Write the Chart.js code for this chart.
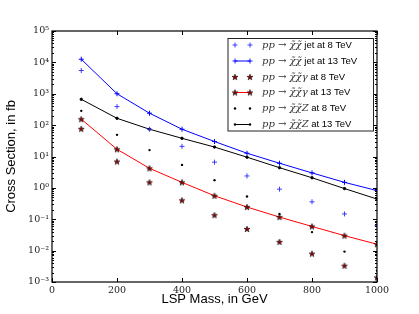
<!DOCTYPE html>
<html><head><meta charset="utf-8">
<script src="https://cdn.jsdelivr.net/npm/chart.js@4.4.0/dist/chart.umd.min.js"></script>
<style>html,body{margin:0;padding:0;background:#fff;} canvas{display:block}</style>
</head><body>
<canvas id="c" width="419" height="314"></canvas>
<script>
// ---- data ----
const masses = [90, 200, 300, 400, 500, 600, 700, 800, 900, 1000];
const jet8  = [5500, 390, 74, 21, 6.6, 2.4, 0.91, 0.36, 0.148, 0.063];
const jet13 = [12600, 1000, 240, 74, 30, 12.7, 6.1, 3.0, 1.5, 0.82];
const gam8  = [76, 6.9, 1.5, 0.40, 0.135, 0.049, 0.019, 0.008, 0.0033, 0.0014];
const gam13 = [155, 17, 4.2, 1.5, 0.56, 0.245, 0.117, 0.059, 0.030, 0.016];
const z8    = [285, 49, 16, 5.4, 1.76, 0.53, 0.148, 0.039, 0.0093, 0.0023];
const z13   = [665, 165, 74, 38, 20, 9.5, 4.4, 2.1, 0.95, 0.44];
const xTickValues = [0, 200, 400, 600, 800, 1000];
const yExponents = [-3, -2, -1, 0, 1, 2, 3, 4, 5];
const legendMath = ['pp \u2192 \u03C7\u0303\u03C7\u0303', 'pp \u2192 \u03C7\u0303\u03C7\u0303', 'pp \u2192 \u03C7\u0303\u03C7\u0303\u03B3', 'pp \u2192 \u03C7\u0303\u03C7\u0303\u03B3', 'pp \u2192 \u03C7\u0303\u03C7\u0303Z', 'pp \u2192 \u03C7\u0303\u03C7\u0303Z'];
const legendText = [' jet at 8 TeV', ' jet at 13 TeV', ' at 8 TeV', ' at 13 TeV', ' at 8 TeV', ' at 13 TeV'];

const sup = {'0':'\u2070','1':'\u00B9','2':'\u00B2','3':'\u00B3','4':'\u2074','5':'\u2075','6':'\u2076','7':'\u2077','8':'\u2078','9':'\u2079','-':'\u207B'};
function supStr(n){ return String(n).split('').map(c => sup[c]).join(''); }

// star marker
function makeStar(){
  const c = document.createElement('canvas');
  c.width = 8; c.height = 8;
  const g = c.getContext('2d');
  g.beginPath();
  for (let i = 0; i < 10; i++) {
    const r = i % 2 === 0 ? 3.2 : 1.3;
    const a = -Math.PI/2 + i * Math.PI/5;
    const px = 4 + r * Math.cos(a), py = 4.3 + r * Math.sin(a);
    i === 0 ? g.moveTo(px, py) : g.lineTo(px, py);
  }
  g.closePath();
  g.fillStyle = '#8b0000'; g.fill();
  g.lineWidth = 0.5; g.strokeStyle = '#000'; g.stroke();
  return c;
}
const star = makeStar();

function pts(arr){ return masses.map((m, i) => ({x: m, y: arr[i]})); }

const datasets = [
  {data: pts(jet8), showLine: false, pointStyle: 'cross', pointRadius: 2.5, borderColor: '#2a2aff', borderWidth: 0.9},
  {data: pts(jet13), showLine: true, pointStyle: 'cross', pointRadius: 2.5, borderColor: '#0000ff', borderWidth: 1},
  {data: pts(gam8), showLine: false, pointStyle: star, pointRadius: 3},
  {data: pts(gam13), showLine: true, pointStyle: star, pointRadius: 3, borderColor: '#ff0000', borderWidth: 1},
  {data: pts(z8), showLine: false, pointStyle: 'circle', pointRadius: 1.2, backgroundColor: '#000', borderColor: '#000', borderWidth: 0},
  {data: pts(z13), showLine: true, pointStyle: 'circle', pointRadius: 1.2, backgroundColor: '#000', borderColor: '#000', borderWidth: 1},
];

const frameTicks = {
  id: 'frameTicks',
  afterDatasetsDraw(chart){
    const {ctx, chartArea: a, scales: {x, y}} = chart;
    ctx.save();
    ctx.strokeStyle = '#000';
    ctx.lineWidth = 1;
    ctx.beginPath();
    xTickValues.forEach(v => {
      const px = Math.round(x.getPixelForValue(v)) + 0.5;
      ctx.moveTo(px, a.bottom); ctx.lineTo(px, a.bottom - 4);
      ctx.moveTo(px, a.top); ctx.lineTo(px, a.top + 4);
    });
    yExponents.forEach(e => {
      for (let k = 1; k <= 9; k++) {
        const v = k * Math.pow(10, e);
        const py = Math.round(y.getPixelForValue(v)) + 0.5;
        const len = k === 1 ? 4 : 2;
        ctx.moveTo(a.left, py); ctx.lineTo(a.left + len, py);
        ctx.moveTo(a.right, py); ctx.lineTo(a.right - len, py);
        if (e === 5) break;
      }
    });
    ctx.stroke();
    ctx.lineWidth = 1.2;
    ctx.strokeRect(a.left, a.top, a.right - a.left, a.bottom - a.top);
    ctx.restore();
  },
  afterDraw(chart){
    const ctx = chart.ctx;
    ctx.save();
    const bx = 228, by = 38.5, bw = 145.5, bh = 92.5;
    ctx.fillStyle = '#fff';
    ctx.fillRect(bx, by, bw, bh);
    ctx.strokeStyle = '#222'; ctx.lineWidth = 1;
    ctx.strokeRect(bx, by, bw, bh);
    const rowY = [45, 61, 77, 92.5, 108.5, 124.5];
    const m1 = 235, m2 = 250, tx = 262;
    rowY.forEach((ry, i) => {
      const ds = datasets[i];
      if (ds.showLine) {
        ctx.beginPath(); ctx.strokeStyle = ds.borderColor; ctx.lineWidth = 1;
        ctx.moveTo(m1, ry); ctx.lineTo(m2, ry); ctx.stroke();
      }
      [m1, m2].forEach(mx => {
        if (ds.pointStyle === 'cross') {
          ctx.beginPath(); ctx.strokeStyle = ds.borderColor; ctx.lineWidth = 0.9;
          ctx.moveTo(mx - 2.5, ry); ctx.lineTo(mx + 2.5, ry);
          ctx.moveTo(mx, ry - 2.5); ctx.lineTo(mx, ry + 2.5); ctx.stroke();
        } else if (ds.pointStyle === 'circle') {
          ctx.beginPath(); ctx.fillStyle = '#000';
          ctx.arc(mx, ry, 1.2, 0, Math.PI * 2); ctx.fill();
        } else {
          ctx.drawImage(star, mx - 4, ry - 4);
        }
      });
      ctx.textBaseline = 'middle'; ctx.textAlign = 'left';
      ctx.fillStyle = '#333';
      ctx.font = 'italic 10px "DejaVu Serif"';
      ctx.fillText(legendMath[i], tx, ry);
      const w = ctx.measureText(legendMath[i]).width;
      ctx.fillStyle = '#000';
      ctx.font = '9.5px "Liberation Sans"';
      ctx.fillText(legendText[i], tx + w, ry);
    });
    ctx.restore();
  }
};

new Chart(document.getElementById('c'), {
  type: 'line',
  data: {datasets},
  options: {
    responsive: false,
    animation: false,
    events: [],
    layout: {padding: {left: 4, top: 31, right: 42, bottom: 7}},
    plugins: {legend: {display: false}, tooltip: {enabled: false}},
    scales: {
      x: {
        type: 'linear', min: 0, max: 1000,
        afterBuildTicks: s => { s.ticks = xTickValues.map(v => ({value: v})); },
        afterFit: s => { s.height = 25; },
        grid: {display: false, drawTicks: false},
        border: {display: false},
        ticks: {padding: 3, color: '#222', font: {family: 'DejaVu Serif', size: 9.5}, maxRotation: 0, autoSkip: false,
          callback: v => String(v)},
        title: {display: true, text: 'LSP Mass, in GeV', color: '#000', padding: 0, font: {family: 'Liberation Sans', size: 13}}
      },
      y: {
        type: 'logarithmic', min: 1e-3, max: 1e5,
        afterBuildTicks: s => { s.ticks = yExponents.map(e => ({value: Math.pow(10, e)})); },
        afterFit: s => { s.width = 48; },
        grid: {display: false, drawTicks: false},
        border: {display: false},
        ticks: {padding: 3, color: '#222', font: {family: 'DejaVu Serif', size: 9.5}, autoSkip: false,
          callback: v => '10' + supStr(Math.round(Math.log10(v)))},
        title: {display: true, text: 'Cross Section, in fb', color: '#000', padding: 0, font: {family: 'Liberation Sans', size: 13}}
      }
    }
  },
  plugins: [frameTicks]
});
</script>
</body></html>
